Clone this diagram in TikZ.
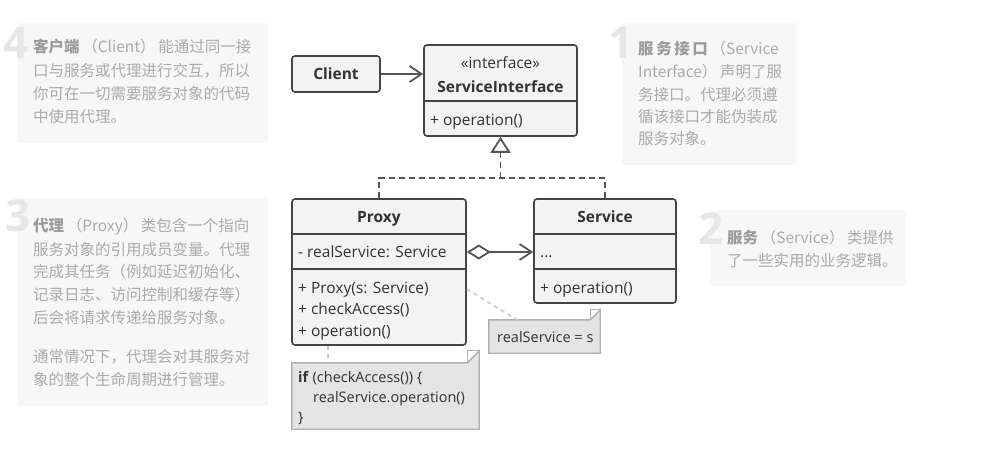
\documentclass[tikz,border=0pt]{standalone}
\usepackage{fontspec}
\setmainfont{Open Sans}
\newfontfamily\cjk{Noto Sans CJK SC}
\usetikzlibrary{arrows.meta}
\definecolor{umlborder}{HTML}{444444}
\definecolor{umlfill}{HTML}{F3F3F3}
\definecolor{umltext}{HTML}{333333}
\definecolor{connc}{HTML}{555555}
\definecolor{notefill}{HTML}{E4E4E4}
\definecolor{noteborder}{HTML}{B0B0B0}
\definecolor{noteline}{HTML}{C8C8C8}
\definecolor{tipfill}{HTML}{F7F7F7}
\definecolor{tiptext}{HTML}{ABABAB}
\definecolor{tipbold}{HTML}{9C9C9C}
\definecolor{numcol}{HTML}{E6E6E6}
\begin{document}
\begin{tikzpicture}[x=1pt,y=-1pt,
  uml/.style={draw=umlborder,fill=umlfill,line width=1.6pt,rounded corners=3pt,inner sep=0pt},
  divider/.style={draw=umlborder,line width=1.6pt},
  utxt/.style={text=umltext,inner sep=0pt,text height=11pt,text depth=4pt,yshift=-2pt,font=\fontsize{15.5}{18}\selectfont},
  ubold/.style={utxt,font=\fontsize{15.5}{18}\selectfont\bfseries},
  conn/.style={draw=connc,line width=1.8pt},
  rdash/.style={conn,dash pattern=on 6pt off 4pt},
  notebox/.style={fill=notefill,draw=noteborder,line width=1.4pt},
  notelink/.style={draw=noteline,line width=1.6pt,dash pattern=on 4pt off 4pt},
  ntxt/.style={text=umltext,inner sep=0pt,anchor=west,text height=10.5pt,text depth=3.5pt,yshift=-1pt,font=\fontsize{14.5}{18}\selectfont},
  tipbox/.style={fill=tipfill,draw=none,inner sep=0pt},
  tiptxt/.style={text=tiptext,inner sep=0pt,anchor=west,text height=13pt,text depth=3pt,font=\cjk\fontsize{15.5}{18}\selectfont},
  numtxt/.style={text=numcol,inner sep=0pt,font=\fontsize{44}{44}\selectfont\bfseries}
]
\useasboundingbox (0,0) rectangle (981,454);
\fill[white] (0,0) rectangle (981,454);

% ---- tip boxes ----
\node[tipbox,minimum width=250,minimum height=120] (tip4) at (143,83) {};
\node[tipbox,minimum width=175,minimum height=142] (tip1) at (709.5,94) {};
\node[tipbox,minimum width=250,minimum height=208] (tip3) at (143,302) {};
\node[tipbox,minimum width=196,minimum height=76] (tip2) at (808,248) {};

\node[numtxt] (n4) at (16,43) {4};
\node[numtxt] (n1) at (621,43) {1};
\node[numtxt] (n3) at (18,216) {3};
\node[numtxt] (n2) at (711,229) {2};

\node[tiptxt] (t4a) at (33,48) {{\color{tipbold}\bfseries 客户端}\,（Client）\,能通过同一接};
\node[tiptxt] (t4b) at (33,72) {口与服务或代理进行交互，所以};
\node[tiptxt] (t4c) at (33,95) {你可在一切需要服务对象的代码};
\node[tiptxt] (t4d) at (33,118) {中使用代理。};

\node[tiptxt] (t1a) at (638,50) {{\color{tipbold}\bfseries 服\,务\,接\,口}\,（Service};
\node[tiptxt] (t1b) at (638,73) {Interface）\,声明了服};
\node[tiptxt] (t1c) at (638,96) {务接口。代理必须遵};
\node[tiptxt] (t1d) at (638,118) {循该接口才能伪装成};
\node[tiptxt] (t1e) at (638,140) {服务对象。};

\node[tiptxt] (t3a) at (33,227) {{\color{tipbold}\bfseries 代理}\,（Proxy）\,类包含一个指向};
\node[tiptxt] (t3b) at (33,250) {服务对象的引用成员变量。代理};
\node[tiptxt] (t3c) at (33,272) {完成其任务（例如延迟初始化、};
\node[tiptxt] (t3d) at (33,295) {记录日志、访问控制和缓存等）};
\node[tiptxt] (t3e) at (33,318) {后会将请求传递给服务对象。};
\node[tiptxt] (t3f) at (33,357) {通常情况下，代理会对其服务对};
\node[tiptxt] (t3g) at (33,380) {象的整个生命周期进行管理。};

\node[tiptxt] (t2a) at (727,238) {{\color{tipbold}\bfseries 服务}\,（Service）\,类提供};
\node[tiptxt] (t2b) at (727,261) {了一些实用的业务逻辑。};

% ---- UML classes ----
\node[uml,minimum width=88,minimum height=36] (client) at (336,74) {};
\node[ubold] (clientlbl) at (336,74) {Client};

\node[uml,minimum width=153,minimum height=91] (si) at (500.5,90.5) {};
\draw[divider] (si.west |- 0,101) -- (si.east |- 0,101);
\node[utxt] (sist) at (500.5,63) {«interface»};
\node[ubold] (siname) at (500.5,87) {ServiceInterface};
\node[utxt,anchor=west] (siop) at (430,120) {+ operation()};

\node[uml,minimum width=174,minimum height=146] (proxy) at (379,272) {};
\draw[divider] (proxy.west |- 0,234) -- (proxy.east |- 0,234);
\draw[divider] (proxy.west |- 0,269) -- (proxy.east |- 0,269);
\node[ubold] (proxyname) at (379,217) {Proxy};
\node[utxt,anchor=west] (pfield) at (298,252) {- realService: Service};
\node[utxt,anchor=west] (pm1) at (298,288) {+ Proxy(s: Service)};
\node[utxt,anchor=west] (pm2) at (298,309) {+ checkAccess()};
\node[utxt,anchor=west] (pm3) at (298,331) {+ operation()};

\node[uml,minimum width=142,minimum height=104] (service) at (605,251) {};
\draw[divider] (service.west |- 0,234) -- (service.east |- 0,234);
\draw[divider] (service.west |- 0,269) -- (service.east |- 0,269);
\node[ubold] (servicename) at (605,217) {Service};
\node[utxt,anchor=west] (sfield) at (540,252) {...};
\node[utxt,anchor=west] (sop) at (540,288) {+ operation()};

% ---- notes ----
\node[inner sep=0pt,minimum width=111,minimum height=33] (note1) at (544.5,336.5) {};
\draw[notebox] (note1.north west) -- ([xshift=-10]note1.north east) -- ([yshift=10]note1.north east) -- (note1.south east) -- (note1.south west) -- cycle;
\draw[noteborder,line width=1.2pt] ([xshift=-10]note1.north east) -- ([xshift=-10,yshift=10]note1.north east) -- ([yshift=10]note1.north east);
\node[ntxt] (note1txt) at (497,338) {realService = s};

\node[inner sep=0pt,minimum width=187,minimum height=66] (note2) at (385.5,396) {};
\draw[notebox] (note2.north west) -- ([xshift=-12]note2.north east) -- ([yshift=12]note2.north east) -- (note2.south east) -- (note2.south west) -- cycle;
\draw[noteborder,line width=1.2pt] ([xshift=-12]note2.north east) -- ([xshift=-12,yshift=12]note2.north east) -- ([yshift=12]note2.north east);
\node[ntxt] (code1) at (298,378) {\textbf{if} (checkAccess()) \{};
\node[ntxt] (code2) at (313,398) {realService.operation()};
\node[ntxt] (code3) at (298,418) {\}};

% ---- connectors ----
\draw[conn,-{Straight Barb[length=12pt,width=16pt,line width=1.8pt]}] (client.east) -- (si.west |- client.east);

\coordinate (jn) at (500.5,178);
\draw[rdash] (proxy.north) -- (proxy.north |- jn) -- (service.north |- jn) -- (service.north);
\draw[rdash,-{Triangle[open,fill=white,length=16pt,width=20pt,line width=1.8pt]}] (jn) -- (si.south);

\draw[conn,{Diamond[fill=white,length=24pt,width=15pt,line width=1.8pt]}-{Straight Barb[length=12pt,width=16pt,line width=1.8pt]}] (proxy.east |- 0,252) -- (service.west |- 0,252);

\draw[notelink] (proxy.east |- 0,289) -- ([xshift=28]note1.north west);
\draw[notelink] (proxy.south -| 328,0) -- (note2.north -| 328,0);
\end{tikzpicture}
\end{document}
